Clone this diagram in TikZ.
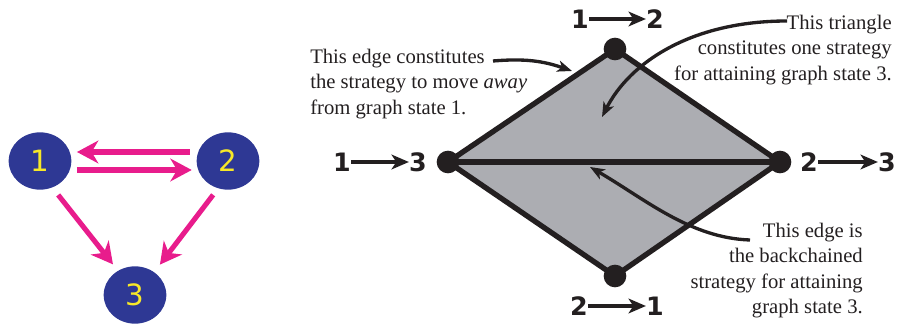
\documentclass[tikz,border=0pt]{standalone}
\usepackage{fontspec}
\setmainfont{Liberation Serif}[ItalicFont={Liberation Serif Italic}]
\newfontfamily\digitfont{DejaVu Sans}
\usetikzlibrary{arrows.meta,shapes.geometric,backgrounds}

\definecolor{stateblue}{RGB}{46,56,148}
\definecolor{stateyellow}{RGB}{247,232,40}
\definecolor{linkpink}{RGB}{232,28,140}
\definecolor{facegray}{RGB}{172,173,178}
\definecolor{inkblack}{RGB}{35,31,32}

\begin{document}
\begin{tikzpicture}[
    x=0.75pt, y=-0.75pt,
    state/.style={ellipse, fill=stateblue, text=stateyellow, minimum width=47pt, minimum height=43pt, inner sep=0pt, font=\digitfont\fontsize{22}{22}\selectfont},
    link/.style={-{Stealth[length=16pt,width=17pt,inset=5pt]}, line width=3.8pt, linkpink},
    vertex/.style={circle, fill=inkblack, minimum size=17pt, inner sep=0pt},
    side/.style={line width=4pt, inkblack, line join=round},
    digit/.style={inner sep=0pt, text=inkblack, font=\digitfont\bfseries\fontsize{19}{19}\selectfont},
    move/.style={-{Stealth[length=13pt,width=11pt,inset=3.5pt]}, line width=3pt, inkblack},
    note/.style={inner sep=0pt, text=inkblack, font=\fontsize{15.5}{18.9}\selectfont},
    pointer/.style={-{Stealth[length=11pt,width=8.5pt,inset=3pt]}, line width=2.5pt, inkblack}
]
    \useasboundingbox (0,0) rectangle (905,327);

    % Left: graph states
    \node[state] (s1) at (40,161) {1};
    \node[state] (s2) at (228,161) {2};
    \node[state] (s3) at (135,295) {3};

    \draw[link, shorten <=5pt, shorten >=4pt] ([yshift=6.75pt]s2.west) -- ([yshift=6.75pt]s1.east);
    \draw[link, shorten <=4pt, shorten >=3.5pt] ([yshift=-6.75pt]s1.east) -- ([yshift=-6.75pt]s2.west);
    \draw[link, shorten <=7pt, shorten >=6pt] (s1.-65) -- (s3.125);
    \draw[link, shorten <=6pt, shorten >=7pt] (s2.-110) -- (s3.50);

    % Right: strategy diamond
    \node[vertex] (v12) at (615,49) {};
    \node[vertex] (v13) at (448,162) {};
    \node[vertex] (v23) at (780,162) {};
    \node[vertex] (v21) at (615,276) {};
    \begin{pgfonlayer}{background}
        \fill[facegray] (v13.center) -- (v12.center) -- (v23.center) -- (v21.center) -- cycle;
        \draw[side] (v13.center) -- (v12.center) -- (v23.center) -- (v21.center) -- cycle;
        \draw[side] (v13.center) -- (v23.center);
    \end{pgfonlayer}

    % Vertex labels
    \node[digit] (d12a) at (580,19) {1};
    \node[digit] (d12b) at (655,19) {2};
    \draw[move] (d12a) -- (d12b);
    \node[digit] (d13a) at (342,162) {1};
    \node[digit] (d13b) at (418,162) {3};
    \draw[move] (d13a) -- (d13b);
    \node[digit] (d23a) at (809,162) {2};
    \node[digit] (d23b) at (887,162) {3};
    \draw[move] (d23a) -- (d23b);
    \node[digit] (d21a) at (579,306) {2};
    \node[digit] (d21b) at (655,306) {1};
    \draw[move] (d21a) -- (d21b);

    % Notes
    \node[note, anchor=north west, align=left] (n1) at (310,49) {This edge constitutes\\the strategy to move \emph{away}\\from graph state 1.};
    \node[note, anchor=north east, align=right] (n2) at (892,15) {This triangle\\constitutes one strategy\\for attaining graph state 3.};
    \node[note, anchor=north east, align=right] (n3) at (863,223) {This edge is\\the backchained\\strategy for attaining\\graph state 3.};

    % Pointers
    \coordinate (p1) at (493,61);
    \coordinate (t1) at (572,71);
    \draw[pointer] (p1) to[bend left=12] (t1);
    \coordinate (p2) at (787,21);
    \coordinate (t2) at (602,117);
    \draw[pointer] (p2) .. controls +(-95,0) and +(28,-55) .. (t2);
    \coordinate (p3) at (750,240);
    \coordinate (t3) at (590,167);
    \draw[pointer] (p3) .. controls +(-60,-2) and +(55,32) .. (t3);
\end{tikzpicture}
\end{document}
